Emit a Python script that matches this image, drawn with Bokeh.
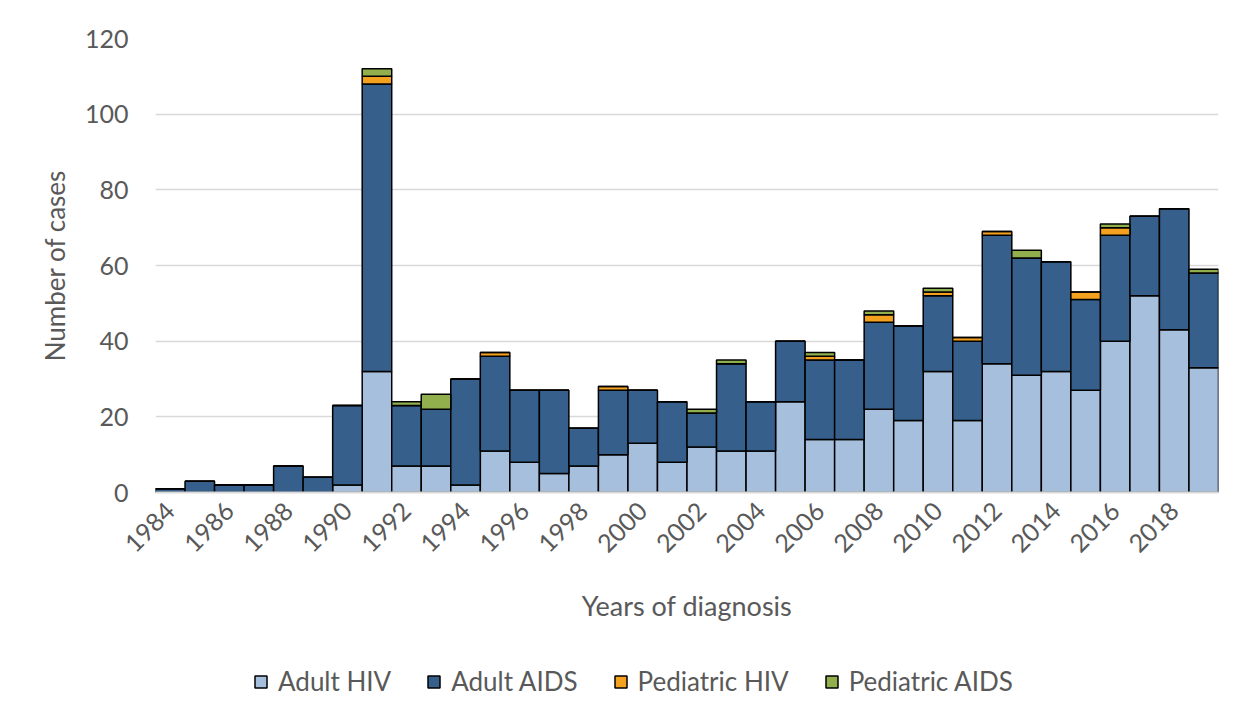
from bokeh.plotting import figure
from bokeh.models import Legend, LegendItem, FixedTicker, ColumnDataSource
from bokeh.layouts import column
from bokeh.embed import file_html
from bokeh.resources import INLINE
import math

years = [1984, 1985, 1986, 1987, 1988, 1989, 1990, 1991, 1992, 1993, 1994, 1995,
         1996, 1997, 1998, 1999, 2000, 2001, 2002, 2003, 2004, 2005, 2006, 2007,
         2008, 2009, 2010, 2011, 2012, 2013, 2014, 2015, 2016, 2017, 2018, 2019]
adult_hiv = [0, 0, 0, 0, 0, 0, 2, 32, 7, 7, 2, 11,
             8, 5, 7, 10, 13, 8, 12, 11, 11, 24, 14, 14,
             22, 19, 32, 19, 34, 31, 32, 27, 40, 52, 43, 33]
adult_aids = [1, 3, 2, 2, 7, 4, 21, 76, 16, 15, 28, 25,
              19, 22, 10, 17, 14, 16, 9, 23, 13, 16, 21, 21,
              23, 25, 20, 21, 34, 31, 29, 24, 28, 21, 32, 25]
ped_hiv = [0, 0, 0, 0, 0, 0, 0, 2, 0, 0, 0, 1,
           0, 0, 0, 1, 0, 0, 0, 0, 0, 0, 1, 0,
           2, 0, 1, 1, 1, 0, 0, 2, 2, 0, 0, 0]
ped_aids = [0, 0, 0, 0, 0, 0, 0, 2, 1, 4, 0, 0,
            0, 0, 0, 0, 0, 0, 1, 1, 0, 0, 1, 0,
            1, 0, 1, 0, 0, 2, 0, 0, 1, 0, 0, 1]
series_names = ["Adult HIV", "Adult AIDS", "Pediatric HIV", "Pediatric AIDS"]
series_keys = ["adult_hiv", "adult_aids", "ped_hiv", "ped_aids"]
colors = ["#A6BFDD", "#36608B", "#F4A11F", "#92AF4E"]
tick_years = [1984, 1986, 1988, 1990, 1992, 1994, 1996, 1998, 2000, 2002,
              2004, 2006, 2008, 2010, 2012, 2014, 2016, 2018]
y_ticks = [0, 20, 40, 60, 80, 100, 120]

FONT = "Lato"
TXT = "#595959"
FS = "25px"

source = ColumnDataSource(dict(years=years, adult_hiv=adult_hiv, adult_aids=adult_aids,
                               ped_hiv=ped_hiv, ped_aids=ped_aids))

p = figure(width=1225, height=657, x_range=(1983.5, 2019.5), y_range=(0, 120),
           output_backend="svg", toolbar_location=None,
           min_border_left=155, min_border_right=7, min_border_top=38, min_border_bottom=165)
p.outline_line_color = None

rs = p.vbar_stack(series_keys, x="years", width=1, source=source, color=colors,
                  line_color="black", line_width=1.5)

# axes
p.xaxis.ticker = FixedTicker(ticks=tick_years)
p.yaxis.ticker = FixedTicker(ticks=y_ticks)
p.xaxis.major_label_orientation = math.pi / 4
for ax in (p.xaxis, p.yaxis):
    ax.major_label_text_font = FONT
    ax.major_label_text_font_size = FS
    ax.major_label_text_color = TXT
    ax.axis_label_text_font = FONT
    ax.axis_label_text_color = TXT
    ax.axis_label_text_font_style = "normal"
    ax.major_tick_line_color = None
    ax.minor_tick_line_color = None
p.xaxis.axis_label_text_font_size = "27px"
p.yaxis.axis_label_text_font_size = "26px"
p.xaxis.axis_line_color = "#D9D9D9"
p.xaxis.axis_line_width = 2
p.yaxis.axis_line_color = None
p.xaxis.axis_label = "Years of diagnosis"
p.yaxis.axis_label = "Number of cases"
p.yaxis.major_label_standoff = 21
p.yaxis.axis_label_standoff = 11
p.xaxis.major_label_standoff = 8
p.xaxis.axis_label_standoff = 26

p.xgrid.grid_line_color = None
p.ygrid.grid_line_color = "#D9D9D9"
p.ygrid.grid_line_width = 1.5

# legend strip below the chart (its frame is aligned with the chart's frame)
lg = figure(width=1225, height=42, x_range=(0, 1), y_range=(0, 1),
            output_backend="svg", toolbar_location=None,
            x_axis_location=None, y_axis_location=None, min_border=0)
lg.outline_line_color = None
lg.xgrid.grid_line_color = None
lg.ygrid.grid_line_color = None
# hidden proxy glyphs, used only for the legend swatches
dummies = []
for c in colors:
    r = lg.vbar(x=[0.5], top=[1], width=0.1, fill_color=c, line_color="black", line_width=1.5)
    r.visible = False
    dummies.append(r)
legend = Legend(items=[LegendItem(label=n, renderers=[r]) for n, r in zip(series_names, dummies)],
                orientation="horizontal", location=(98, 2),
                label_text_font=FONT, label_text_font_size="26px", label_text_color=TXT,
                glyph_width=15, glyph_height=15, label_standoff=10, spacing=35,
                border_line_color=None, background_fill_alpha=0, margin=0, padding=0,
                click_policy="none", inactive_fill_alpha=0)
lg.add_layout(legend, "center")

layout = column(p, lg, spacing=0)
open("out.html", "w").write(file_html(layout, INLINE))
